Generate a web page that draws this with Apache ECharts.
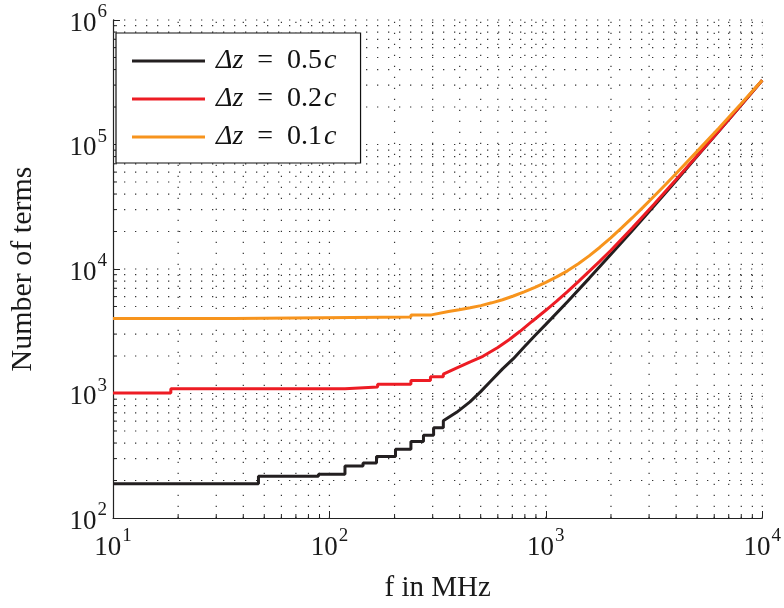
<!DOCTYPE html>
<html><head><meta charset="utf-8">
<script src="https://cdn.jsdelivr.net/npm/echarts@6/dist/echarts.min.js"></script>
<style>html,body{margin:0;padding:0;background:#fff}#c{width:784px;height:608px}</style>
</head><body><div id="c"></div>
<script>
// ---- data ----
const xMin = 10, xMax = 10000;
const yMin = 100, yMax = 1000000;
const decadesX = [10, 100, 1000];
const decadesY = [100, 1000, 10000, 100000];
const minorMantissas = [2, 3, 4, 5, 6, 7, 8, 9];

const freq05 = [10, 47, 47, 89, 89, 118, 118, 143, 143, 165, 165, 202, 202, 238, 238, 272, 272, 303, 303, 336, 336, 387, 446, 500, 550, 631, 708, 794, 891, 1000, 1259, 1585, 1995, 2512, 3162, 3981, 5012, 6310, 7943, 10000];
const terms05 = [188, 188, 216, 216, 225, 225, 262, 262, 276, 276, 312, 312, 356, 356, 412, 412, 463, 463, 530, 530, 604, 706, 857, 1035, 1233, 1578, 1905, 2360, 2920, 3590, 5460, 8410, 13060, 20400, 32100, 50700, 80700, 128200, 204600, 328000];

const freq02 = [10, 18.5, 18.5, 118, 118, 167, 167, 238, 238, 293, 293, 336, 336, 386, 450, 512, 600, 676, 760, 863, 1000, 1122, 1259, 1413, 1585, 1778, 1995, 2512, 3162, 3981, 5012, 6310, 7943, 10000];
const terms02 = [1010, 1010, 1090, 1090, 1130, 1130, 1185, 1185, 1270, 1270, 1360, 1360, 1430, 1600, 1800, 1990, 2340, 2700, 3160, 3790, 4660, 5520, 6590, 7930, 9570, 11560, 14090, 21400, 33100, 51900, 81700, 129100, 205600, 328000];

const freq01 = [10, 36, 36, 238, 238, 296, 296, 355, 398, 447, 501, 562, 631, 708, 794, 891, 1000, 1122, 1259, 1413, 1585, 1778, 1995, 2239, 2512, 2818, 3162, 3548, 3981, 5012, 6310, 7943, 10000];
const terms01 = [4000, 4000, 4120, 4120, 4280, 4280, 4420, 4550, 4700, 4880, 5080, 5350, 5660, 6070, 6550, 7130, 7820, 8650, 9660, 11020, 12740, 14960, 17780, 21380, 25820, 31410, 38370, 47100, 57940, 88500, 135800, 210400, 328000];

const legendValues = ['0.5', '0.2', '0.1'];
const seriesNames = legendValues.map(v => 'Δz = ' + v + 'c');
const colors = ['#231f20', '#ed1c24', '#f7941d'];

// ---- grid positions (dotted grid at every major and minor decade step) ----
const gridData = [];
decadesX.forEach(d => {
  minorMantissas.forEach(m => gridData.push([d * m, yMin, 0, 0]));
  gridData.push([d * 10, yMin, 0, 1]);
});
decadesY.forEach(d => {
  minorMantissas.forEach(m => gridData.push([xMin, d * m, 1, 0]));
  gridData.push([xMin, d * 10, 1, 1]);
});

const FONT = 'Liberation Serif';

function renderGrid(params, api) {
  const kind = api.value(2);
  const major = api.value(3) === 1;
  const children = [];
  const dotStyle = { stroke: '#333', lineWidth: 1.2, lineDash: [1.3, 9.7] };
  if (kind === 0) {
    const v = api.value(0);
    const a = api.coord([v, yMin]), b = api.coord([v, yMax]);
    children.push({ type: 'line', shape: { x1: a[0], y1: a[1], x2: b[0], y2: b[1] }, style: dotStyle, silent: true });
    if (!major) children.push({ type: 'line', shape: { x1: a[0], y1: a[1], x2: a[0], y2: a[1] - 4 }, style: { stroke: '#222', lineWidth: 1 }, silent: true });
  } else {
    const v = api.value(1);
    const a = api.coord([xMin, v]), b = api.coord([xMax, v]);
    children.push({ type: 'line', shape: { x1: a[0], y1: a[1], x2: b[0], y2: b[1] }, style: dotStyle, silent: true });
    if (!major) children.push({ type: 'line', shape: { x1: a[0], y1: a[1], x2: a[0] + 4, y2: a[1] }, style: { stroke: '#222', lineWidth: 1 }, silent: true });
  }
  return { type: 'group', children: children };
}

const labelRich = {
  b: { fontFamily: FONT, fontSize: 27, color: '#1a1a1a', lineHeight: 34, verticalAlign: 'bottom' },
  e: { fontFamily: FONT, fontSize: 19, color: '#1a1a1a', lineHeight: 34, verticalAlign: 'top', padding: [0, 0, 0, 1] }
};
function powLabel(v) {
  return '{b|10}{e|' + Math.round(Math.log10(v)) + '}';
}

const lineSeries = [[freq05, terms05], [freq02, terms02], [freq01, terms01]].map((p, i) => ({
  name: seriesNames[i],
  type: 'line',
  data: p[0].map((f, j) => [f, p[1][j]]),
  showSymbol: false,
  lineStyle: { color: colors[i], width: 3 },
  itemStyle: { color: colors[i] },
  z: 3 + i,
  animation: false
}));

const chart = echarts.init(document.getElementById('c'), null, { renderer: 'canvas' });
chart.setOption({
  animation: false,
  backgroundColor: '#fff',
  grid: { left: 104, right: 20, top: 20, bottom: 85 },
  legend: {
    data: seriesNames,
    orient: 'vertical',
    left: 116, top: 33,
    icon: 'rect',
    itemWidth: 73, itemHeight: 3,
    itemGap: 10,
    padding: [14, 24, 12, 16],
    borderColor: '#111', borderWidth: 1.2,
    backgroundColor: '#fff',
    z: 10,
    formatter: function (name) {
      const i = seriesNames.indexOf(name);
      return '{d|Δz}{s|=}{n|' + legendValues[i] + '}{c|c}';
    },
    textStyle: {
      rich: {
        d: { fontFamily: FONT, fontStyle: 'italic', fontSize: 28, color: '#111', padding: [0, 0, 0, 6], lineHeight: 30 },
        s: { fontFamily: FONT, fontSize: 28, color: '#111', padding: [0, 14, 0, 14], lineHeight: 30 },
        n: { fontFamily: FONT, fontSize: 28, color: '#111', lineHeight: 30 },
        c: { fontFamily: FONT, fontStyle: 'italic', fontSize: 28, color: '#111', padding: [0, 0, 0, 2], lineHeight: 30 }
      }
    }
  },
  xAxis: {
    type: 'log', logBase: 10, min: xMin, max: xMax,
    name: 'f in MHz', nameLocation: 'middle', nameGap: 56,
    nameTextStyle: { fontFamily: FONT, fontSize: 29, color: '#1a1a1a' },
    axisLine: { lineStyle: { color: '#222', width: 1.2 } },
    axisTick: { inside: true, length: 7, lineStyle: { color: '#222' } },
    axisLabel: { margin: 9, formatter: powLabel, rich: labelRich },
    splitLine: { show: false }
  },
  yAxis: {
    type: 'log', logBase: 10, min: yMin, max: yMax,
    name: 'Number of terms', nameLocation: 'middle', nameGap: 75,
    nameTextStyle: { fontFamily: FONT, fontSize: 30, color: '#1a1a1a' },
    axisLine: { show: true, lineStyle: { color: '#222', width: 1.2 } },
    axisTick: { inside: true, length: 7, lineStyle: { color: '#222' } },
    axisLabel: { margin: 6, formatter: powLabel, rich: labelRich },
    splitLine: { show: false }
  },
  series: [{
    type: 'custom',
    renderItem: renderGrid,
    data: gridData,
    encode: { x: 0, y: 1 },
    clip: false,
    silent: true,
    z: 1,
    animation: false
  }].concat(lineSeries)
});
</script>
</body></html>
